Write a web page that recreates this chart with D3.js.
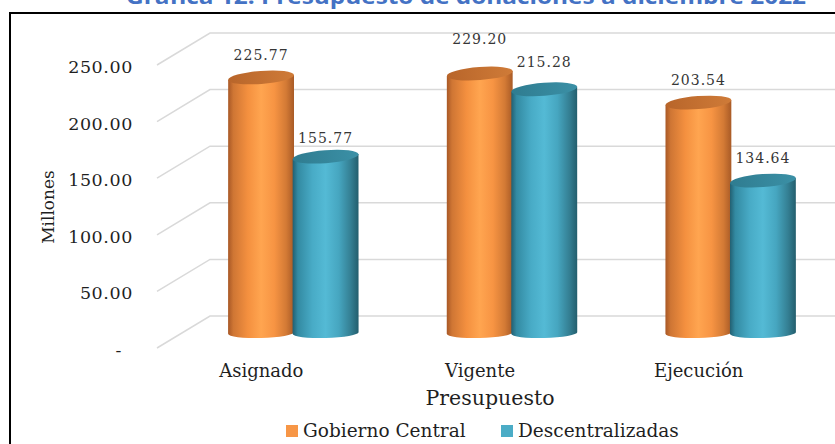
<!DOCTYPE html>
<html>
<head>
<meta charset="utf-8">
<script src="https://cdn.jsdelivr.net/npm/d3@7"></script>
<style>
  html, body { margin: 0; padding: 0; background: #ffffff; overflow: hidden; }
  svg { display: block; }
  text { font-family: "DejaVu Serif", serif; }
</style>
</head>
<body>
<svg id="chart" width="835" height="444"></svg>
<script>
// ---- data ----
const categories = ["Asignado", "Vigente", "Ejecución"];
const seriesNames = ["Gobierno Central", "Descentralizadas"];
const gobiernoCentral = [225.77, 229.20, 203.54];
const descentralizadas = [155.77, 215.28, 134.64];
const yTickValues = [0, 50, 100, 150, 200, 250];
const yTickLabels = ["-", "50.00", "100.00", "150.00", "200.00", "250.00"];
const titleText = "Gráfica 12: Presupuesto de donaciones a diciembre 2022";
const xAxisTitle = "Presupuesto";
const yAxisTitle = "Millones";

// ---- layout ----
const W = 835, H = 444;
const frontX = 157, backX = 210, wallRight = 845;
const depthDy = -32;
const barDepth = 15 / 32;                 // bars sit roughly mid-way into the floor
const colors = {
  "Gobierno Central": { flat: "#f79646", body: ["#a85826", "#cf7634", "#f4903f", "#ffa550", "#f79443", "#d37a35", "#a85a26"], top: ["#b8652a", "#cf7b38"] },
  "Descentralizadas": { flat: "#4bacc6", body: ["#225f71", "#338aa2", "#48abc6", "#54bad5", "#46a6c0", "#347f93", "#235e6d"], top: ["#2f7c90", "#3b90a6"] }
};
// the middle labels sit a little higher than the rest
const labelLift = { "Vigente|Gobierno Central": 12, "Vigente|Descentralizadas": 5, "Asignado|Descentralizadas": -4 };
const textColor = "#1f1f1f";

const svg = d3.select("#chart");
const defs = svg.append("defs");

// scales: front plane of the floor/wall and the plane the bars stand in
const yFront = d3.scaleLinear().domain([0, 250]).range([348, 65]);
const yBack = v => yFront(v) + depthDy;
const yBar = v => yFront(v) - barDepth * (-depthDy);
const xCat = d3.scaleBand().domain(categories).range([184, 840]);
const xSeries = d3.scaleBand().domain(seriesNames).range([-64.5, 64.5]);
const barRx = 33;

// ---- title (partly above the frame) ----
svg.append("text")
  .attr("x", 126).attr("y", 4)
  .attr("textLength", 680).attr("lengthAdjust", "spacingAndGlyphs")
  .style("font-family", "'Open Sans', 'Liberation Sans', sans-serif")
  .style("font-weight", "bold").style("font-size", "22px")
  .attr("fill", "#4472c4")
  .text(titleText);

// ---- outer frame ----
svg.append("rect")
  .attr("x", 10).attr("y", 13).attr("width", W + 20).attr("height", H + 20)
  .attr("fill", "none").attr("stroke", "#000").attr("stroke-width", 2);

// ---- 3D gridlines: diagonal on the floor side, horizontal on the back wall ----
const grid = svg.append("g").attr("stroke", "#d9d9d9").attr("stroke-width", 1.5).attr("fill", "none");
grid.selectAll("path").data(yTickValues).join("path")
  .attr("d", v => `M${frontX},${yFront(v)}L${backX},${yBack(v)}L${wallRight},${yBack(v)}`);

// ---- y tick labels ----
svg.append("g").selectAll("text").data(yTickValues).join("text")
  .attr("x", 133).attr("y", v => yFront(v) + 8)
  .attr("dx", v => v === 0 ? -11 : 0)
  .attr("text-anchor", "end")
  .style("font-size", "17.5px").style("letter-spacing", "0.6px")
  .attr("fill", textColor)
  .text((v, i) => yTickLabels[i]);

// ---- y axis title ----
svg.append("text")
  .attr("transform", "translate(54,207) rotate(-90)")
  .attr("text-anchor", "middle")
  .style("font-size", "17px").attr("fill", textColor)
  .text(yAxisTitle);

// ---- gradients ----
seriesNames.forEach((s, si) => {
  const c = colors[s];
  const g = defs.append("linearGradient").attr("id", "body" + si)
    .attr("x1", 0).attr("x2", 1).attr("y1", 0).attr("y2", 0);
  const offs = [0, 0.08, 0.3, 0.5, 0.7, 0.88, 1];
  c.body.forEach((col, k) => g.append("stop").attr("offset", offs[k]).attr("stop-color", col));
  const t = defs.append("linearGradient").attr("id", "top" + si)
    .attr("x1", 0).attr("x2", 1).attr("y1", 0).attr("y2", 0);
  t.append("stop").attr("offset", 0).attr("stop-color", c.top[0]);
  t.append("stop").attr("offset", 1).attr("stop-color", c.top[1]);
});

// ---- cylinders ----
const rows = [];
categories.forEach((cat, ci) => {
  [gobiernoCentral, descentralizadas].forEach((vals, si) => {
    rows.push({ cat, series: seriesNames[si], si, value: vals[ci] });
  });
});

const topRot = -4.3, botRot = -1.5, ryTop = 6.5, ryBot = 5;
const rad = a => a * Math.PI / 180;

function bodyPath(cx, yt, yb) {
  const ct = Math.cos(rad(topRot)), st = Math.sin(rad(topRot));
  const cb = Math.cos(rad(botRot)), sb = Math.sin(rad(botRot));
  const lt = [cx - barRx * ct, yt - barRx * st], rt = [cx + barRx * ct, yt + barRx * st];
  const lb = [cx - barRx * cb, yb - barRx * sb], rb = [cx + barRx * cb, yb + barRx * sb];
  return `M${lt}L${lb}A${barRx},${ryBot},${botRot},0,0,${rb}L${rt}Z`;
}

const bars = svg.append("g").selectAll("g").data(rows).join("g");
bars.each(function (d) {
  const g = d3.select(this);
  const cx = xCat(d.cat) + xCat.bandwidth() / 2 + xSeries(d.series) + xSeries.bandwidth() / 2;
  const yt = yBar(d.value), yb = yBar(0);
  d.cx = cx; d.yt = yt;
  g.append("path").attr("d", bodyPath(cx, yt, yb)).attr("fill", `url(#body${d.si})`);
  g.append("ellipse")
    .attr("cx", cx).attr("cy", yt).attr("rx", barRx).attr("ry", ryTop)
    .attr("transform", `rotate(${topRot},${cx},${yt})`)
    .attr("fill", `url(#top${d.si})`);
});

// ---- value labels ----
svg.append("g").selectAll("text").data(rows).join("text")
  .attr("x", d => d.cx)
  .attr("y", d => d.yt - ryTop - 11 - (labelLift[d.cat + "|" + d.series] || 0))
  .attr("text-anchor", "middle")
  .style("font-size", "14px").style("letter-spacing", "1px")
  .attr("fill", "#363636")
  .text(d => d.value.toFixed(2));

// ---- category labels on the front edge ----
svg.append("g").selectAll("text").data(categories).join("text")
  .attr("x", c => xCat(c) + xCat.bandwidth() / 2 - 32)
  .attr("y", 377)
  .attr("text-anchor", "middle")
  .style("font-size", "18px").attr("fill", textColor)
  .text(c => c);

// ---- x axis title ----
svg.append("text")
  .attr("x", 490).attr("y", 405).attr("text-anchor", "middle")
  .style("font-size", "20.5px").attr("fill", textColor)
  .text(xAxisTitle);

// ---- legend ----
const legendX = [286, 501];
const legend = svg.append("g").selectAll("g").data(seriesNames).join("g")
  .attr("transform", (s, i) => `translate(${legendX[i]},425)`);
legend.append("rect").attr("width", 12).attr("height", 12).attr("fill", s => colors[s].flat);
legend.append("text").attr("x", 17).attr("y", 12)
  .style("font-size", "18.5px").attr("fill", textColor)
  .text(s => s);
</script>
</body>
</html>
